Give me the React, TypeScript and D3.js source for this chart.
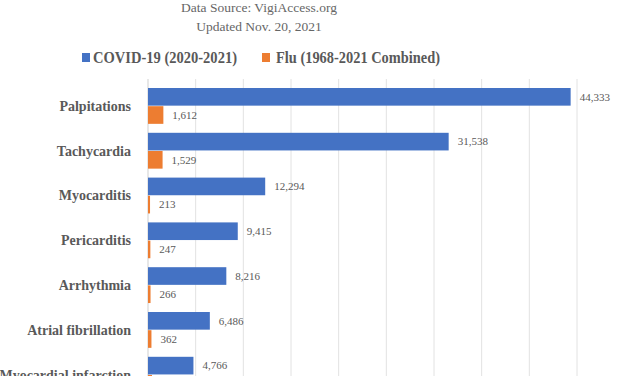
import React from "react";
import * as d3 from "d3";

const categories = [
  "Palpitations",
  "Tachycardia",
  "Myocarditis",
  "Pericarditis",
  "Arrhythmia",
  "Atrial fibrillation",
  "Myocardial infarction",
];
const covidValues = [44333, 31538, 12294, 9415, 8216, 6486, 4766];
const fluValues = [1612, 1529, 213, 247, 266, 362, 420];
const gridTicks = [0, 5000, 10000, 15000, 20000, 25000, 30000, 35000, 40000, 45000];
const titleLines = ["Data Source: VigiAccess.org", "Updated Nov. 20, 2021"];
const seriesNames = ["COVID-19 (2020-2021)", "Flu (1968-2021 Combined)"];
const colors = ["#4472C4", "#ED7D31"];

const W = 627;
const H = 376;

export default function App() {
  const x = d3.scaleLinear().domain([0, 45000]).range([148, 577]);
  const step = 44.8;
  const y = d3
    .scaleBand<string>()
    .domain(categories)
    .range([88 - step * 0.2, 88 - step * 0.2 + step * (categories.length + 0.2)])
    .paddingInner(0.2)
    .paddingOuter(0.2);
  const inner = d3.scaleBand<number>().domain([0, 1]).range([0, y.bandwidth()]).paddingInner(0.03);
  const fmt = d3.format(",");
  const textColor = "#595959";
  const serif = "'Liberation Serif', 'DejaVu Serif', serif";

  return (
    <svg
      width={W}
      height={H}
      style={{ position: "fixed", left: 0, top: 0, background: "#fff" }}
      fontFamily={serif}
    >
      <rect x={0} y={0} width={W} height={H} fill="#fff" />
      {titleLines.map((t, i) => (
        <text
          key={t}
          x={259}
          y={12 + i * 19}
          textAnchor="middle"
          fontSize={13.5}
          fill="#666"
        >
          {t}
        </text>
      ))}
      {/* legend */}
      <rect x={82} y={53} width={8} height={9} fill={colors[0]} />
      <text
        x={93}
        y={63}
        fontSize={17}
        fontWeight="bold"
        fill={textColor}
        textLength={144}
        lengthAdjust="spacingAndGlyphs"
      >
        {seriesNames[0]}
      </text>
      <rect x={262} y={53} width={8} height={9} fill={colors[1]} />
      <text
        x={276}
        y={63}
        fontSize={17}
        fontWeight="bold"
        fill={textColor}
        textLength={164}
        lengthAdjust="spacingAndGlyphs"
      >
        {seriesNames[1]}
      </text>
      {/* gridlines */}
      {gridTicks.map((t) => (
        <line
          key={t}
          x1={x(t)}
          x2={x(t)}
          y1={79}
          y2={H}
          stroke={t === 0 ? "#cfcfcf" : "#e2e2e2"}
          strokeWidth={1}
        />
      ))}
      {categories.map((c, i) => {
        const y0 = y(c)!;
        const vals = [covidValues[i], fluValues[i]];
        return (
          <g key={c}>
            <text
              x={131}
              y={y0 + y.bandwidth() / 2}
              dy="0.35em"
              textAnchor="end"
              fontSize={14}
              fontWeight="bold"
              fill={textColor}
            >
              {c}
            </text>
            {vals.map((v, k) => {
              const by = y0 + inner(k)!;
              const bh = inner.bandwidth();
              return (
                <g key={k}>
                  <rect
                    x={x(0)}
                    y={by}
                    width={x(v) - x(0)}
                    height={bh}
                    fill={colors[k]}
                  />
                  <text
                    x={x(v) + 9}
                    y={by + bh / 2}
                    dy="0.35em"
                    fontSize={11}
                    fill={textColor}
                  >
                    {fmt(v)}
                  </text>
                </g>
              );
            })}
          </g>
        );
      })}
    </svg>
  );
}
